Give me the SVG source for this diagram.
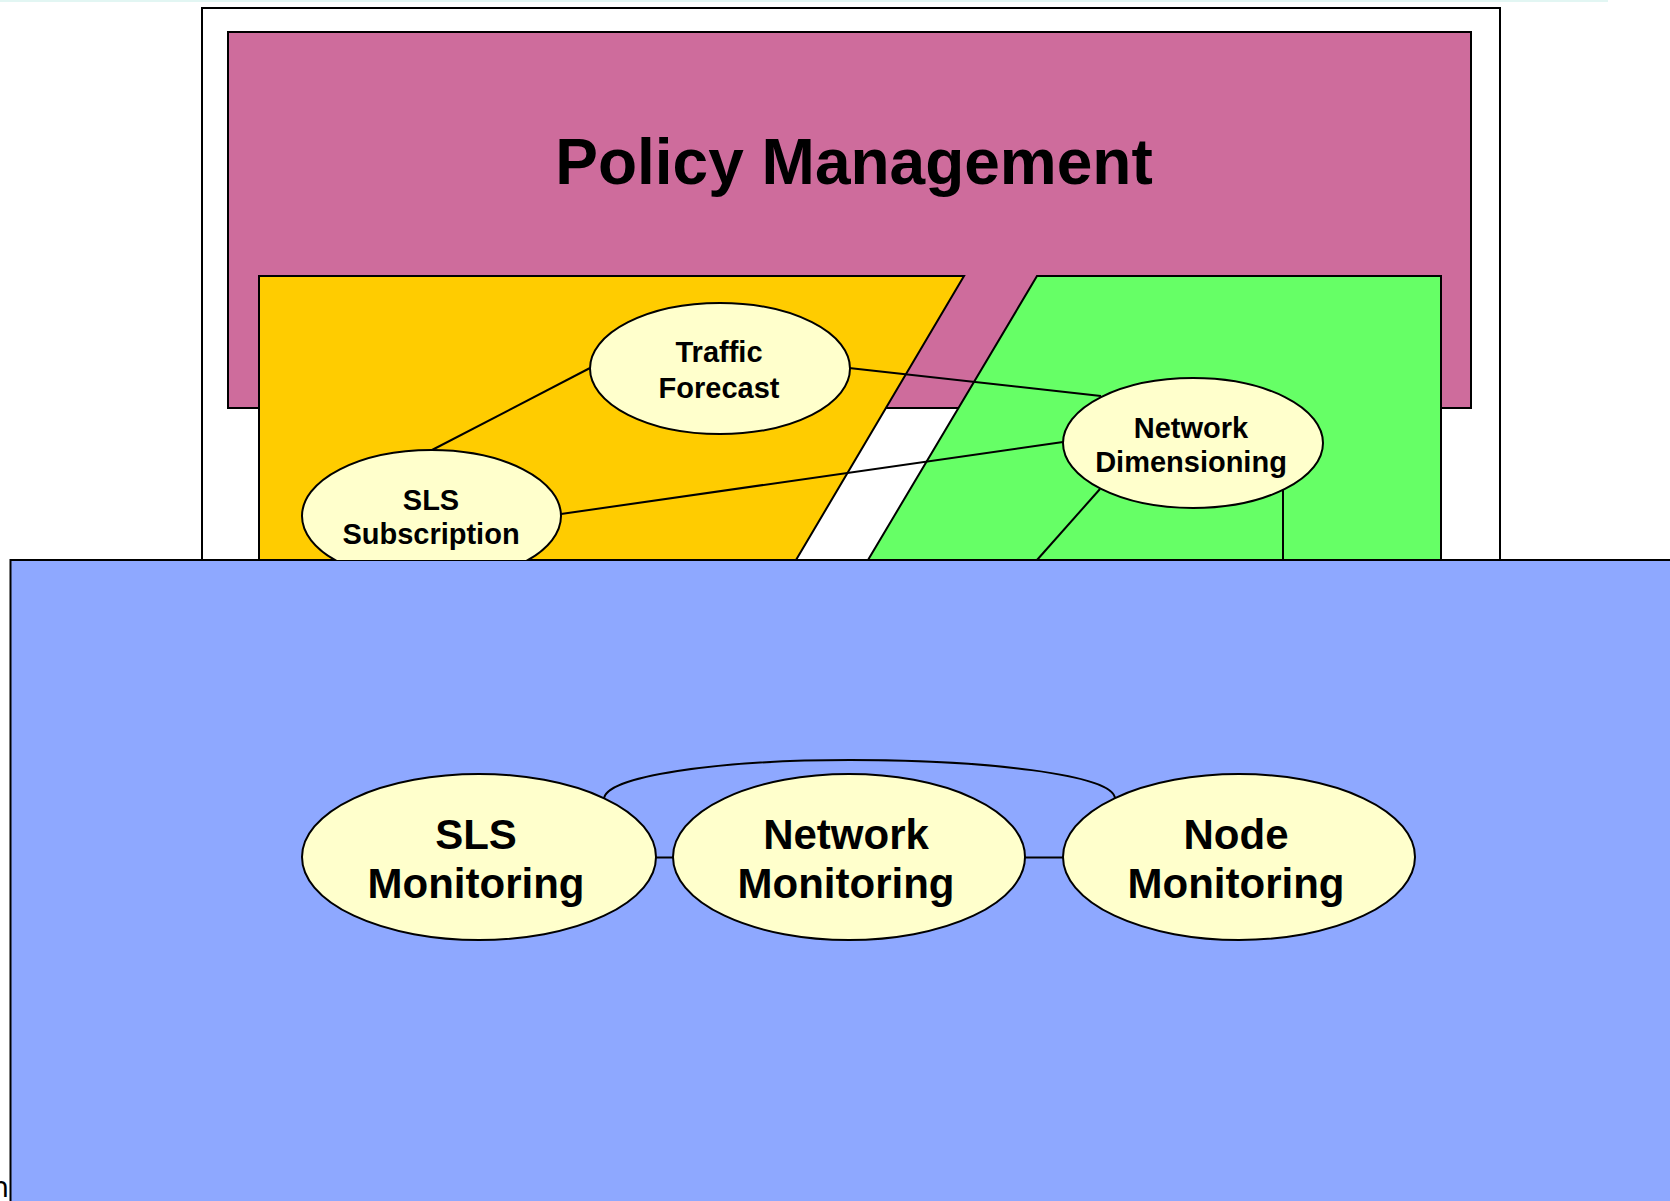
<svg xmlns="http://www.w3.org/2000/svg" width="1670" height="1201" viewBox="0 0 1670 1201">
<style>
.bg{stroke:#000;stroke-width:2}
.node{fill:#FFFFCC;stroke:#000;stroke-width:2}
.conn{fill:none;stroke:#000;stroke-width:2}
.lbl{font-family:"Liberation Sans",Arial,sans-serif;font-weight:bold;text-anchor:middle;fill:#000}
.s{font-size:29px}
.m{font-size:42px}
</style>
<defs>
<clipPath id="topclip"><rect x="0" y="0" width="1670" height="560"/></clipPath>
</defs>
<rect x="0" y="0" width="1670" height="1201" fill="#fff"/>
<rect x="0" y="0" width="1608" height="2" fill="#E2F6F3"/>
<g id="backgrounds">
<rect id="outer" class="bg" x="202" y="8" width="1298" height="560" fill="#fff"/>
<rect id="policy-management" class="bg" x="228" y="32" width="1243" height="376" fill="#CE6C9C"/>
<polygon id="yellow-area" class="bg" points="259,276 964,276 796,560 259,560" fill="#FFCC00"/>
<polygon id="green-area" class="bg" points="1037,276 1441,276 1441,560 868,560" fill="#66FF66"/>
<rect id="monitoring-area" class="bg" x="10.5" y="560" width="1670" height="660" fill="#8EA8FF"/>
</g>
<text class="lbl" x="854" y="184" style="font-size:64px">Policy Management</text>
<text x="9" y="1197" style="font-family:'DejaVu Sans',sans-serif;font-size:28px;text-anchor:end">n</text>
<g id="connectors">
<line class="conn" x1="432" y1="450" x2="590" y2="368"/>
<line class="conn" x1="849" y1="368" x2="1101" y2="396"/>
<line class="conn" x1="561" y1="514" x2="1063" y2="442"/>
<line class="conn" x1="1100" y1="489" x2="1037" y2="560"/>
<line class="conn" x1="1283" y1="487" x2="1283" y2="560"/>
<line class="conn" x1="655" y1="857.5" x2="673" y2="857.5"/>
<line class="conn" x1="1025" y1="857.5" x2="1063" y2="857.5"/>
<path class="conn" d="M604,800 C602,776 720,760 850,760 C980,760 1116,774 1115,799"/>
</g>
<g id="traffic-forecast">
<ellipse class="node" cx="720" cy="368.5" rx="130" ry="65.5"/>
<text class="lbl s" x="719" y="362">Traffic</text>
<text class="lbl s" x="719" y="398">Forecast</text>
</g>
<g id="sls-subscription" clip-path="url(#topclip)">
<ellipse class="node" cx="431.5" cy="516" rx="129.5" ry="66"/>
<text class="lbl s" x="431" y="510">SLS</text>
<text class="lbl s" x="431" y="544">Subscription</text>
</g>
<g id="network-dimensioning">
<ellipse class="node" cx="1193" cy="443" rx="130" ry="65"/>
<text class="lbl s" x="1191" y="438">Network</text>
<text class="lbl s" x="1191" y="472">Dimensioning</text>
</g>
<g id="sls-monitoring">
<ellipse class="node" cx="479" cy="857" rx="177" ry="83"/>
<text class="lbl m" x="476" y="849">SLS</text>
<text class="lbl m" x="476" y="898">Monitoring</text>
</g>
<g id="network-monitoring">
<ellipse class="node" cx="849" cy="857" rx="176" ry="83"/>
<text class="lbl m" x="846" y="849">Network</text>
<text class="lbl m" x="846" y="898">Monitoring</text>
</g>
<g id="node-monitoring">
<ellipse class="node" cx="1239" cy="857" rx="176" ry="83"/>
<text class="lbl m" x="1236" y="849">Node</text>
<text class="lbl m" x="1236" y="898">Monitoring</text>
</g>
</svg>
